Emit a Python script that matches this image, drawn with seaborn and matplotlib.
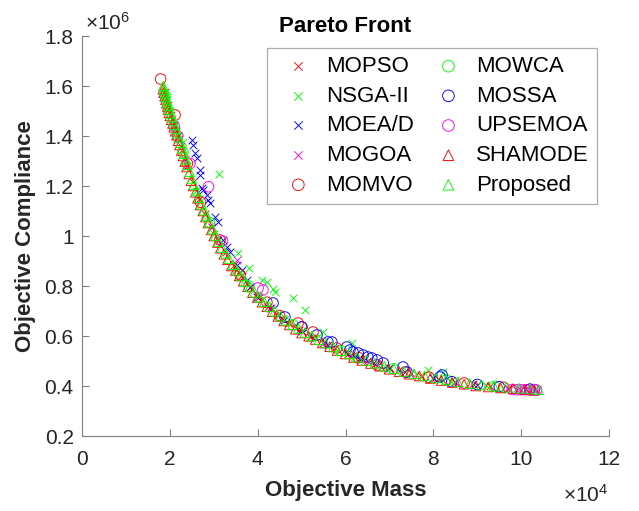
import matplotlib
matplotlib.use("Agg")
import matplotlib.pyplot as plt
import seaborn as sns
from matplotlib.ticker import FuncFormatter, FixedLocator

# ---------------- data (x: mass in 1e4, y: compliance in 1e6) ----------------
mopso_x = [1.88, 1.95, 2.02, 2.10, 2.18, 2.28, 2.40, 2.53, 2.66, 2.80, 2.95, 3.10, 3.27, 3.45,
           3.63, 3.82, 4.02, 4.24, 4.46, 4.70, 4.95, 5.20, 5.48, 5.76, 6.05, 6.36, 6.68, 7.02,
           7.36, 7.72, 8.10, 8.50, 8.90, 9.30, 9.70, 10.10]
mopso_y = [1.575, 1.525, 1.485, 1.445, 1.40, 1.345, 1.28, 1.215, 1.15, 1.09, 1.035, 0.985, 0.935, 0.885,
           0.84, 0.795, 0.757, 0.717, 0.685, 0.652, 0.624, 0.598, 0.572, 0.551, 0.528, 0.508, 0.489, 0.471,
           0.456, 0.442, 0.429, 0.418, 0.407, 0.40, 0.394, 0.389]

nsga_x = [1.90, 2.00, 2.15, 2.30, 2.60, 3.00, 3.12, 3.50, 3.56, 3.80, 4.00, 4.09, 4.21, 4.36, 4.40,
          4.60, 4.80, 5.08, 5.30, 5.49, 6.14, 6.20, 6.90, 7.60, 7.88, 8.22, 8.40, 9.20, 9.90, 10.30]
nsga_y = [1.56, 1.50, 1.42, 1.376, 1.18, 1.01, 1.248, 0.865, 0.933, 0.871, 0.76, 0.824, 0.817, 0.79, 0.777,
          0.665, 0.751, 0.704, 0.592, 0.616, 0.572, 0.518, 0.477, 0.448, 0.464, 0.458, 0.42, 0.403, 0.391, 0.386]

moead_x = [2.50, 2.53, 2.57, 2.61, 2.69, 2.69, 2.73, 2.76, 2.84, 2.87, 2.92, 3.03, 3.10, 3.21, 3.30,
           3.37, 3.53, 3.64, 3.76, 3.83, 3.99, 4.28, 4.60, 5.00, 5.60, 6.30, 7.00, 8.00, 9.00]
moead_y = [1.384, 1.364, 1.332, 1.312, 1.264, 1.244, 1.192, 1.184, 1.164, 1.144, 1.132, 1.076, 1.056, 0.984, 0.956,
           0.936, 0.884, 0.864, 0.824, 0.796, 0.758, 0.712, 0.666, 0.622, 0.565, 0.51, 0.473, 0.433, 0.406]

mogoa_x = [2.05, 2.10, 2.15, 2.20, 2.25, 2.35, 2.95, 3.52, 4.30, 5.50, 6.50, 7.50, 8.50, 9.70,
           9.90, 10.00, 10.10, 10.20, 10.30, 10.35]
mogoa_y = [1.47, 1.44, 1.42, 1.39, 1.36, 1.31, 1.035, 0.905, 0.712, 0.577, 0.50, 0.451, 0.418, 0.388,
           0.386, 0.386, 0.385, 0.385, 0.384, 0.384]

momvo_x = [1.79, 2.12, 2.40, 2.70, 3.14, 3.60, 4.21, 4.50, 4.92, 5.01, 5.26, 5.80, 6.30, 6.72,
           7.36, 7.90, 8.70, 9.60, 10.20]
momvo_y = [1.628, 1.484, 1.29, 1.135, 0.984, 0.845, 0.735, 0.682, 0.652, 0.636, 0.616, 0.552, 0.513, 0.484,
           0.456, 0.435, 0.412, 0.395, 0.387]

mowca_x = [1.90, 2.30, 2.90, 3.80, 4.80, 5.90, 7.10, 8.30, 9.40, 10.30]
mowca_y = [1.56, 1.335, 1.055, 0.80, 0.645, 0.541, 0.469, 0.424, 0.399, 0.386]

mossa_x = [4.35, 4.62, 5.00, 5.35, 5.60, 5.69, 6.03, 6.10, 6.17, 6.29, 6.40, 6.51, 6.60, 6.72,
           6.86, 7.31, 7.40, 8.15, 8.20, 8.42, 9.00, 9.50, 10.20]
mossa_y = [0.732, 0.676, 0.636, 0.604, 0.576, 0.576, 0.556, 0.544, 0.536, 0.532, 0.524, 0.516, 0.512, 0.504,
           0.492, 0.476, 0.456, 0.436, 0.444, 0.417, 0.406, 0.397, 0.387]

upsemoa_x = [2.10, 2.18, 2.46, 2.88, 3.20, 4.01, 4.12, 9.80, 9.90, 10.00, 10.10, 10.20, 10.30, 10.35]
upsemoa_y = [1.44, 1.40, 1.29, 1.197, 0.98, 0.792, 0.784, 0.386, 0.385, 0.385, 0.385, 0.384, 0.384, 0.384]

shamode_x = [1.84, 1.86, 1.88, 1.90, 1.92, 1.94, 1.96, 1.98, 2.00, 2.03, 2.06, 2.09, 2.12, 2.15, 2.19,
             2.22, 2.26, 2.30, 2.34, 2.38, 2.43, 2.48, 2.53, 2.58, 2.63, 2.69, 2.75, 2.81, 2.87, 2.94,
             3.00, 3.08, 3.15, 3.23, 3.31, 3.40, 3.49, 3.58, 3.67, 3.77, 3.88, 3.99, 4.10, 4.21, 4.33,
             4.46, 4.59, 4.72, 4.86, 5.00, 5.16, 5.31, 5.47, 5.64, 5.81, 5.99, 6.18, 6.37, 6.57, 6.78,
             6.99, 7.22, 7.45, 7.68, 7.93, 8.18, 8.43, 8.70, 8.97, 9.25, 9.53, 9.81, 10.08, 10.30]
shamode_y = [1.587, 1.573, 1.559, 1.545, 1.531, 1.518, 1.506, 1.493, 1.48, 1.465, 1.45, 1.435, 1.419, 1.403, 1.381,
             1.364, 1.342, 1.32, 1.298, 1.276, 1.248, 1.221, 1.20, 1.175, 1.151, 1.124, 1.10, 1.076, 1.052, 1.024,
             1.0, 0.974, 0.951, 0.927, 0.905, 0.88, 0.862, 0.84, 0.819, 0.797, 0.773, 0.754, 0.735, 0.717, 0.697,
             0.678, 0.66, 0.644, 0.627, 0.612, 0.599, 0.586, 0.572, 0.557, 0.542, 0.528, 0.514, 0.502, 0.49, 0.479,
             0.467, 0.457, 0.447, 0.44, 0.43, 0.422, 0.414, 0.407, 0.40, 0.396, 0.392, 0.389, 0.386, 0.383]

proposed_x = [1.85, 1.87, 1.89, 1.91, 1.93, 1.95, 1.97, 1.99, 2.02, 2.05, 2.08, 2.11, 2.14, 2.17, 2.20,
              2.24, 2.28, 2.32, 2.36, 2.40, 2.45, 2.50, 2.55, 2.60, 2.66, 2.72, 2.78, 2.84, 2.90, 2.97,
              3.04, 3.11, 3.19, 3.27, 3.35, 3.44, 3.53, 3.62, 3.72, 3.82, 3.93, 4.04, 4.15, 4.27, 4.39,
              4.52, 4.65, 4.79, 4.93, 5.08, 5.23, 5.39, 5.55, 5.72, 5.90, 6.08, 6.27, 6.47, 6.67, 6.88,
              7.10, 7.33, 7.56, 7.80, 8.05, 8.30, 8.56, 8.83, 9.10, 9.38, 9.66, 9.95, 10.20, 10.40]
proposed_y = [1.60, 1.586, 1.572, 1.558, 1.544, 1.532, 1.52, 1.506, 1.49, 1.475, 1.46, 1.445, 1.428, 1.412, 1.395,
              1.373, 1.351, 1.329, 1.307, 1.285, 1.257, 1.23, 1.205, 1.18, 1.153, 1.127, 1.103, 1.079, 1.055, 1.027,
              1.002, 0.978, 0.953, 0.931, 0.909, 0.885, 0.862, 0.84, 0.818, 0.796, 0.775, 0.755, 0.737, 0.717, 0.699,
              0.679, 0.663, 0.645, 0.63, 0.614, 0.60, 0.585, 0.571, 0.556, 0.541, 0.528, 0.515, 0.502, 0.491, 0.479,
              0.469, 0.458, 0.449, 0.44, 0.432, 0.424, 0.417, 0.41, 0.404, 0.399, 0.395, 0.391, 0.388, 0.385]

x_ticks = [0, 2, 4, 6, 8, 10, 12]
y_ticks = [0.2, 0.4, 0.6, 0.8, 1.0, 1.2, 1.4, 1.6, 1.8]

# ---------------- style ----------------
sns.set_theme(style="white")
plt.rcParams["font.family"] = ["Liberation Sans", "DejaVu Sans"]
plt.rcParams["mathtext.fontset"] = "custom"
plt.rcParams["mathtext.rm"] = "Liberation Sans"

RED, GREEN, BLUE, MAG = "#ff0000", "#00ff00", "#0000ff", "#ff00ff"
TXT = "#262626"
AX = "#808080"

fig = plt.figure(figsize=(6.39, 5.11), dpi=100)
ax = fig.add_axes([82 / 639, 1 - 436 / 511, 527 / 639, 400 / 511])

series = [
    ("MOPSO", mopso_x, mopso_y, "x", RED),
    ("NSGA-II", nsga_x, nsga_y, "x", GREEN),
    ("MOEA/D", moead_x, moead_y, "x", BLUE),
    ("MOGOA", mogoa_x, mogoa_y, "x", MAG),
    ("MOMVO", momvo_x, momvo_y, "o", RED),
    ("MOWCA", mowca_x, mowca_y, "o", GREEN),
    ("MOSSA", mossa_x, mossa_y, "o", BLUE),
    ("UPSEMOA", upsemoa_x, upsemoa_y, "o", MAG),
    ("SHAMODE", shamode_x, shamode_y, "^", RED),
    ("Proposed", proposed_x, proposed_y, "^", GREEN),
]

for name, xs, ys, mk, col in series:
    if mk == "x":
        sns.scatterplot(x=xs, y=ys, marker="x", s=30, color=col, linewidth=0.65,
                        label=name, ax=ax)
    else:
        size = 58 if mk == "o" else 48
        sns.scatterplot(x=xs, y=ys, marker=mk, s=size, facecolors="none",
                        edgecolors=col, color=col, linewidth=0.65, label=name, ax=ax)

ax.set_xlim(0, 12)
ax.set_ylim(0.2, 1.8)
ax.xaxis.set_major_locator(FixedLocator(x_ticks))
ax.yaxis.set_major_locator(FixedLocator(y_ticks))
fmt = FuncFormatter(lambda v, p: f"{v:g}")
ax.xaxis.set_major_formatter(fmt)
ax.yaxis.set_major_formatter(fmt)

for s in ["top", "right"]:
    ax.spines[s].set_visible(False)
for s in ["left", "bottom"]:
    ax.spines[s].set_color(AX)
    ax.spines[s].set_linewidth(0.8)
ax.tick_params(direction="in", length=5, width=0.8, color=AX, labelsize=15,
               labelcolor=TXT, left=True, bottom=True)
ax.tick_params(axis="x", pad=10)
ax.tick_params(axis="y", pad=6)

ax.set_xlabel("Objective Mass", fontsize=16, fontweight="bold", color=TXT, labelpad=8)
ax.set_ylabel("Objective Compliance", fontsize=16, fontweight="bold", color=TXT, labelpad=6)
ax.set_title("Pareto Front", fontsize=16, fontweight="bold", color="black", pad=3)

fig.text(85 / 639, 1 - 30 / 511, r"$\mathregular{\times10^{6}}$", fontsize=15, color=TXT,
         ha="left", va="baseline")
fig.text(608 / 639, 1 - 502 / 511, r"$\mathregular{\times10^{4}}$", fontsize=15, color=TXT,
         ha="right", va="baseline")

leg = ax.legend(ncol=2, loc="upper left", bbox_to_anchor=((267 - 82) / 527, (436 - 48) / 400),
                fontsize=16, frameon=True, fancybox=False, borderpad=0.36,
                handlelength=2.1, handletextpad=0.2, columnspacing=0.5, labelspacing=0.39,
                borderaxespad=0.0, markerscale=1.1)
leg.get_frame().set_edgecolor("#999999")
leg.get_frame().set_linewidth(0.9)
for t in leg.get_texts():
    t.set_color("black")

fig.savefig("out.png", dpi=100)
